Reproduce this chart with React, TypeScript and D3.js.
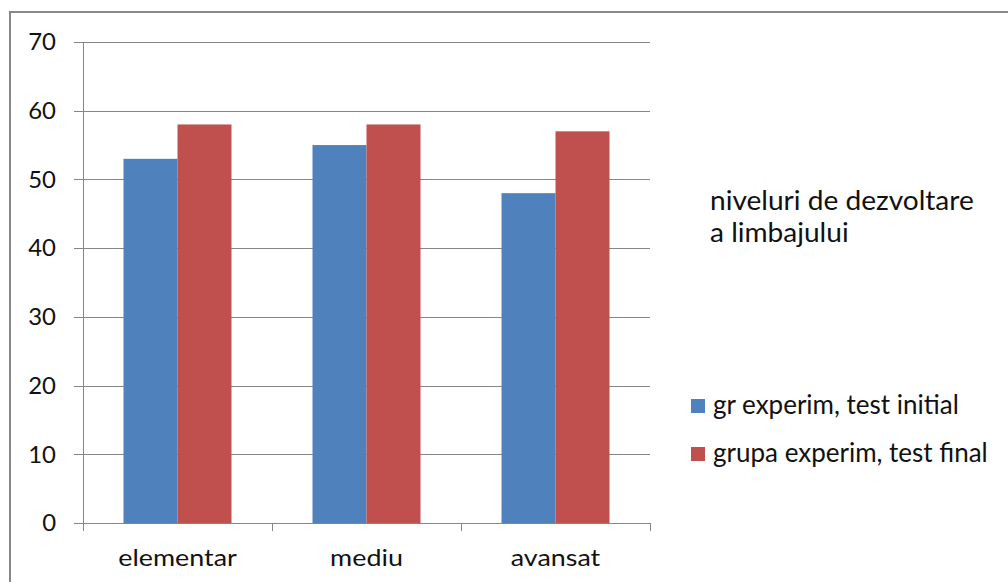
import React from "react";
import * as d3 from "d3";

const categories = ["elementar", "mediu", "avansat"];
const seriesNames = ["gr experim, test initial", "grupa experim, test final"];
const initialValues = [53, 55, 48];
const finalValues = [58, 58, 57];
const yTicks = [0, 10, 20, 30, 40, 50, 60, 70];
const legendTitle = ["niveluri de dezvoltare", "a limbajului"];

const colors = ["#4F81BD", "#C0504D"];
const FONT = "Lato, 'Open Sans', sans-serif";

export default function App() {
  const W = 1008, H = 582;
  const left = 83, right = 650, top = 42, bottom = 523;
  const y = d3.scaleLinear().domain([0, 70]).range([bottom, top]);
  const x0 = d3.scaleBand<string>().domain(categories).range([left, right]).paddingInner(81 / 189).paddingOuter(40.5 / 189);
  const x1 = d3.scaleBand<number>().domain([0, 1]).range([0, x0.bandwidth()]);
  const step = x0.step();
  const series = [initialValues, finalValues];
  const gridColor = "#868686";

  return (
    <svg width={W} height={H} style={{ position: "absolute", left: 0, top: 0, background: "#fff" }}>
      <rect x={0} y={0} width={W} height={H} fill="#fff" />
      <rect x={10} y={12} width={W + 20} height={H + 20} fill="none" stroke="#888" strokeWidth={2} />
      {yTicks.map((t) => (
        <g key={t}>
          <line x1={left - 9} x2={right} y1={Math.round(y(t)) + 0.5} y2={Math.round(y(t)) + 0.5} stroke={gridColor} strokeWidth={1} />
          <text transform={`translate(56,${y(t)}) scale(1.04,1)`} dy="0.36em" textAnchor="end" fontFamily={FONT} fontSize={23} fill="#111">{t}</text>
        </g>
      ))}
      {categories.map((c, i) => (
        <g key={c}>
          {series.map((s, j) => (
            <rect key={j} x={(x0(c) as number) + (x1(j) as number)} y={y(s[i])} width={x1.bandwidth()} height={bottom - y(s[i])} fill={colors[j]} />
          ))}
        </g>
      ))}
      <line x1={left + 0.5} x2={left + 0.5} y1={top} y2={bottom + 8} stroke={gridColor} />
      <line x1={left} x2={right} y1={bottom + 0.5} y2={bottom + 0.5} stroke={gridColor} />
      {d3.range(categories.length + 1).map((k) => (
        <line key={k} x1={left + k * step + 0.5} x2={left + k * step + 0.5} y1={bottom} y2={bottom + 8} stroke={gridColor} />
      ))}
      {categories.map((c) => (
        <text key={c} transform={`translate(${(x0(c) as number) + x0.bandwidth() / 2},566) scale(1.12,1)`} textAnchor="middle" fontFamily={FONT} fontSize={24} fill="#111">{c}</text>
      ))}
      {legendTitle.map((l, i) => (
        <text key={l} transform={`translate(710,${210 + i * 32}) scale(1.04,1)`} fontFamily={FONT} fontSize={27} fill="#111">{l}</text>
      ))}
      {seriesNames.map((n, i) => (
        <g key={n}>
          <rect x={691} y={399 + i * 48} width={14} height={14} fill={colors[i]} />
          <text transform={`translate(713,${414 + i * 48})`} fontFamily={FONT} fontSize={26} fill="#111">{n}</text>
        </g>
      ))}
    </svg>
  );
}
